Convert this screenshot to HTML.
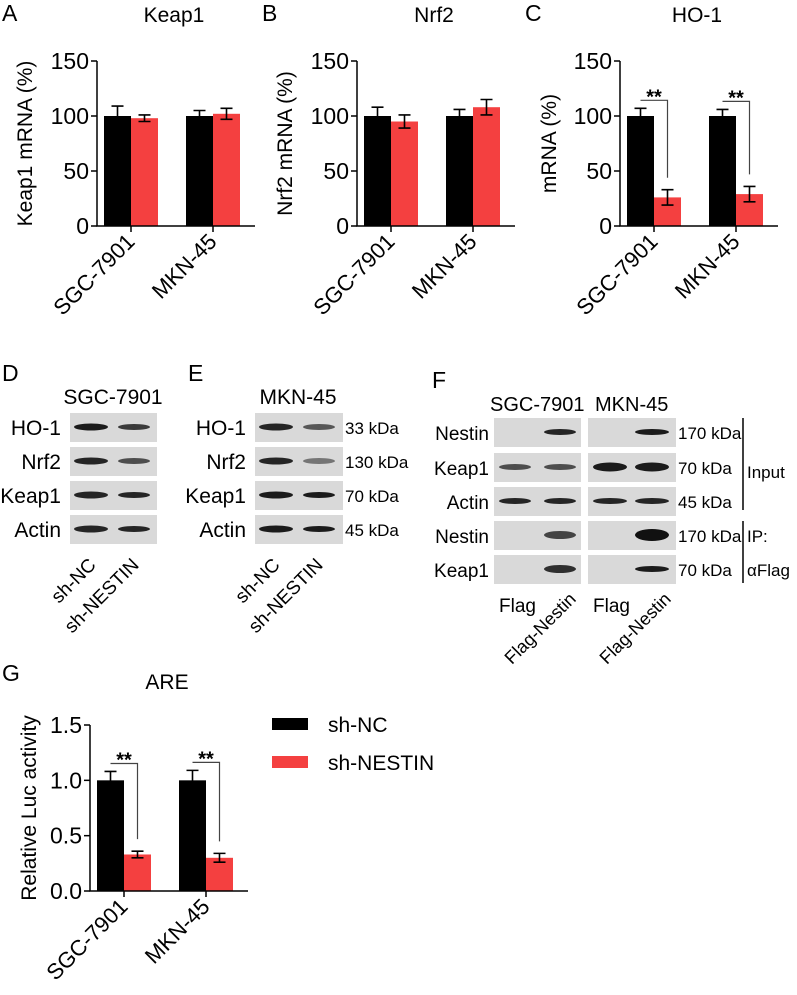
<!DOCTYPE html>
<html><head><meta charset="utf-8"><style>
body{margin:0;background:#fff}
svg{display:block;font-family:"Liberation Sans",Arial,sans-serif}
</style></head><body>
<svg id="fig" width="797" height="995" viewBox="0 0 797 995" xmlns="http://www.w3.org/2000/svg"></svg>
<script>
const categories = ["SGC-7901", "MKN-45"];
const keap1NC = [100, 100], keap1NCErr = [9, 5];
const keap1KD = [98, 102], keap1KDErr = [3, 5];
const nrf2NC = [100, 100], nrf2NCErr = [8, 6];
const nrf2KD = [95, 108], nrf2KDErr = [6, 7];
const ho1NC = [100, 100], ho1NCErr = [7, 6];
const ho1KD = [26, 29], ho1KDErr = [7, 7];
const areNC = [1.0, 1.0], areNCErr = [0.08, 0.09];
const areKD = [0.33, 0.30], areKDErr = [0.03, 0.04];
const pctTicks = [0, 50, 100, 150];
const areTicks = [0, 0.5, 1.0, 1.5];
const areTickLabels = ["0.0", "0.5", "1.0", "1.5"];
const seriesNames = ["sh-NC", "sh-NESTIN"];

const NS = "http://www.w3.org/2000/svg";
const svg = document.getElementById('fig');
function mk(tag, attrs, parent, txt){
  const e = document.createElementNS(NS, tag);
  for (const k in attrs) e.setAttribute(k, attrs[k]);
  if (txt !== undefined) e.textContent = txt;
  (parent || svg).appendChild(e);
  return e;
}
function txt(x,y,s,size,opts,name,parent){
  const o = Object.assign({x:x,y:y,'font-size':size,fill:'#000'}, opts||{});
  const t = mk('text', o, parent, s);
  
  
  return t;
}

function barChart(cfg){
  const g = mk('g', {});
  
  
  const x0 = cfg.x0, yTop = cfg.yTop, yBot = cfg.yBot, xEnd = cfg.x0 + 158;
  const ymax = cfg.ymax;
  const yS = v => yBot - (v / ymax) * (yBot - yTop);
  const catX = i => x0 + 34 + i * 82;
  for (let i = 0; i < categories.length; i++){
    const c = catX(i);
    const b1 = mk('rect', {x:c-27, y:yS(cfg.nc[i]), width:27, height:yBot-yS(cfg.nc[i]), fill:'#000'}, g);
    
    
    const b2 = mk('rect', {x:c, y:yS(cfg.kd[i]), width:27, height:yBot-yS(cfg.kd[i]), fill:'#f44040'}, g);
    
    
    [[c-13.5, cfg.nc[i], cfg.ncErr[i]], [c+13.5, cfg.kd[i], cfg.kdErr[i]]].forEach(([cx, v, e]) => {
      const eb = mk('path', {d:`M${cx},${yS(v-e)}V${yS(v+e)}M${cx-6},${yS(v+e)}H${cx+6}M${cx-6},${yS(v-e)}H${cx+6}`, stroke:'#000','stroke-width':1.6, fill:'none'}, g);
      
      
    });
    if (cfg.sig){
      const yl = yS(cfg.nc[i] + cfg.ncErr[i]) - 8;
      const br = mk('path', {d:`M${c-13.5},${yl}H${c+13.5}V${yS(cfg.kd[i]+cfg.kdErr[i])-12}`, stroke:'#444','stroke-width':1.2, fill:'none'}, g);
      
      
      txt(c, yl+3, '**', 20, {'text-anchor':'middle','font-weight':'bold'}, 'significance-stars', g);
    }
    mk('line', {x1:c, x2:c, y1:yBot, y2:yBot+6, stroke:'#000','stroke-width':1.5}, g);
    txt(c+5, yBot+17, categories[i], 22, {'text-anchor':'end', transform:`rotate(-45 ${c+5} ${yBot+17})`}, 'x-tick-label', g);
  }
  mk('path', {d:`M${x0},${yTop}V${yBot}H${xEnd}`, stroke:'#000','stroke-width':1.5, fill:'none'}, g);
  cfg.ticks.forEach((t, k) => {
    mk('line', {x1:x0-6, x2:x0, y1:yS(t), y2:yS(t), stroke:'#000','stroke-width':1.5}, g);
    txt(x0-8, yS(t)+8, cfg.tickLabels ? cfg.tickLabels[k] : String(t), 23, {'text-anchor':'end'}, 'y-tick-label', g);
  });
  const ty = (yTop + yBot) / 2;
  txt(cfg.titleX, ty, cfg.ytitle, 21, {'text-anchor':'middle', transform:`rotate(-90 ${cfg.titleX} ${ty})`}, 'y-axis-title', g);
  txt(x0 + 77, cfg.headY, cfg.title, 21, {'text-anchor':'middle'}, 'chart-title', g);
  txt(cfg.letterX, cfg.letterY, cfg.letter, 23, {}, 'panel-label', g);
}

barChart({name:'keap1-chart', letter:'A', letterX:2, letterY:21, x0:97, yTop:61, yBot:226, headY:22, ymax:150, ticks:pctTicks, title:'Keap1', ytitle:'Keap1 mRNA (%)', titleX:32, nc:keap1NC, ncErr:keap1NCErr, kd:keap1KD, kdErr:keap1KDErr});
barChart({name:'nrf2-chart', letter:'B', letterX:262, letterY:21, x0:357, yTop:61, yBot:226, headY:22, ymax:150, ticks:pctTicks, title:'Nrf2', ytitle:'Nrf2 mRNA (%)', titleX:292, nc:nrf2NC, ncErr:nrf2NCErr, kd:nrf2KD, kdErr:nrf2KDErr});
barChart({name:'ho1-chart', letter:'C', letterX:525, letterY:21, x0:620, yTop:61, yBot:226, headY:22, ymax:150, ticks:pctTicks, title:'HO-1', ytitle:'mRNA (%)', titleX:556, nc:ho1NC, ncErr:ho1NCErr, kd:ho1KD, kdErr:ho1KDErr, sig:true});
barChart({name:'are-chart', letter:'G', letterX:2, letterY:681, x0:90, yTop:725, yBot:891, headY:689, ymax:1.5, ticks:areTicks, tickLabels:areTickLabels, title:'ARE', ytitle:'Relative Luc activity', titleX:36, nc:areNC, ncErr:areNCErr, kd:areKD, kdErr:areKDErr, sig:true});

const lg = mk('g', {});


const le1 = mk('rect', {x:272, y:718, width:36, height:12, fill:'#000'}, lg);


txt(328, 732, seriesNames[0], 21, {}, 'legend-label-shnc', lg);
const le2 = mk('rect', {x:272, y:756, width:36, height:12, fill:'#f44040'}, lg);


txt(328, 770, seriesNames[1], 21, {}, 'legend-label-shnestin', lg);

function band(g, cx, cy, w, h, op){
  const e = mk('ellipse', {cx:cx, cy:cy, rx:w/2, ry:h/2, fill:'#111', opacity:op}, g);
  
  
}
function blotBox(g, x, y, w, h){
  const r = mk('rect', {x:x, y:y, width:w, height:h, fill:'#d9d9d9'}, g);
  
  
}
// D
const gd = mk('g', {});  
txt(2, 381, 'D', 23, {}, 'panel-label', gd);
txt(113, 404, 'SGC-7901', 21, {'text-anchor':'middle'}, 'cell-line-label', gd);
const rowsD = ['HO-1','Nrf2','Keap1','Actin'], yD = [413,447,481,515];
const opD = [[0.95,0.8],[0.9,0.7],[0.9,0.9],[0.9,0.9]];
rowsD.forEach((r,i)=>{ blotBox(gd,70,yD[i],87,29); txt(61,yD[i]+22,r,21,{'text-anchor':'end'},'protein-label',gd);
  band(gd,91,yD[i]+14,34,7,opD[i][0]); band(gd,134,yD[i]+14,32,6,opD[i][1]); });
txt(97,566,'sh-NC',19,{'text-anchor':'end',transform:'rotate(-45 97 566)'},'lane-label',gd);
txt(140,566,'sh-NESTIN',19,{'text-anchor':'end',transform:'rotate(-45 140 566)'},'lane-label',gd);
// E
const ge = mk('g', {});  
txt(188, 381, 'E', 23, {}, 'panel-label', ge);
txt(298, 404, 'MKN-45', 21, {'text-anchor':'middle'}, 'cell-line-label', ge);
const kdE = ['33 kDa','130 kDa','70 kDa','45 kDa'];
const opE = [[0.9,0.65],[0.9,0.5],[0.95,0.95],[0.95,0.95]];
rowsD.forEach((r,i)=>{ blotBox(ge,255,yD[i],88,29); txt(246,yD[i]+22,r,21,{'text-anchor':'end'},'protein-label',ge);
  txt(345,yD[i]+21,kdE[i],17,{},'kda-label',ge);
  band(ge,276,yD[i]+14,34,7,opE[i][0]); band(ge,319,yD[i]+14,32,6,opE[i][1]); });
txt(281,566,'sh-NC',19,{'text-anchor':'end',transform:'rotate(-45 281 566)'},'lane-label',ge);
txt(324,566,'sh-NESTIN',19,{'text-anchor':'end',transform:'rotate(-45 324 566)'},'lane-label',ge);
// F
const gf = mk('g', {});  
txt(432, 388, 'F', 23, {}, 'panel-label', gf);
txt(490, 411, 'SGC-7901', 20, {}, 'cell-line-label', gf);
txt(595, 411, 'MKN-45', 20, {}, 'cell-line-label', gf);
const rowsF = ['Nestin','Keap1','Actin','Nestin','Keap1'], yF = [418,453,487,521,555];
const kdF = ['170 kDa','70 kDa','45 kDa','170 kDa','70 kDa'];
const bandsF = [[[0,0.9],[0,0.95]],[[0.7,0.7],[0.95,0.95]],[[0.9,0.9],[0.9,0.9]],[[0,0.75],[0,1]],[[0,0.85],[0,0.95]]];
const hF = [[6,6],[6,9],[6,6],[8,12],[8,6]];
rowsF.forEach((r,i)=>{ blotBox(gf,494,yF[i],87,29); blotBox(gf,588,yF[i],88,29);
  txt(489,yF[i]+22,r,19,{'text-anchor':'end'},'protein-label',gf);
  txt(678,yF[i]+21,kdF[i],17,{},'kda-label',gf);
  if (bandsF[i][0][0]) band(gf,515,yF[i]+14,32,hF[i][0],bandsF[i][0][0]);
  band(gf,560,yF[i]+14,32,hF[i][0],bandsF[i][0][1]);
  if (bandsF[i][1][0]) band(gf,610,yF[i]+14,34,hF[i][1],bandsF[i][1][0]);
  band(gf,652,yF[i]+14,34,hF[i][1],bandsF[i][1][1]); });
mk('line',{x1:743,x2:743,y1:418,y2:510,stroke:'#000','stroke-width':1.5},gf);
mk('line',{x1:743,x2:743,y1:521,y2:583,stroke:'#000','stroke-width':1.5},gf);
txt(747,478,'Input',17,{},'input-label',gf);
txt(747,542,'IP:',17,{},'ip-label',gf);
txt(747,576,'αFlag',17,{},'ip-antibody-label',gf);
txt(499,612,'Flag',19,{},'lane-label',gf);
txt(593,612,'Flag',19,{},'lane-label',gf);
txt(577,600,'Flag-Nestin',18,{'text-anchor':'end',transform:'rotate(-45 577 600)'},'lane-label',gf);
txt(672,600,'Flag-Nestin',18,{'text-anchor':'end',transform:'rotate(-45 672 600)'},'lane-label',gf);
</script>
</body></html>
